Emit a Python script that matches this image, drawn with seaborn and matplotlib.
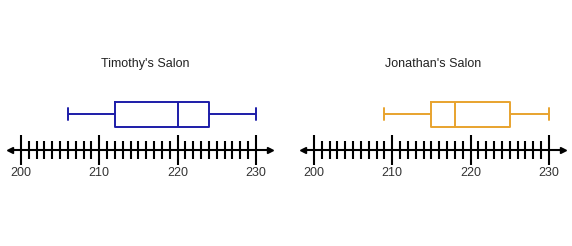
import numpy as np
import matplotlib
matplotlib.use("Agg")
import matplotlib.pyplot as plt
import seaborn as sns

# Five-number summaries: min, Q1, median, Q3, max
timothy = [206, 212, 220, 224, 230]
jonathan = [209, 215, 218, 225, 230]
titles = ["Timothy's Salon", "Jonathan's Salon"]
major_ticks = [200, 210, 220, 230]
minor_ticks = list(range(200, 231))
colors = ["#1c1ca8", "#e8a32e"]

sns.set_style("white")
plt.rcParams["font.family"] = ["Liberation Sans", "DejaVu Sans"]

W, H = 572, 246
fig = plt.figure(figsize=(W / 100, H / 100), dpi=100)

def px_axes(x0, x1, ytop, ybot):
    return fig.add_axes([x0 / W, 1 - ybot / H, (x1 - x0) / W, (ybot - ytop) / H])

axes = [px_axes(10, 270, 80, 150), px_axes(303, 563, 80, 150)]

for i, (ax, data, title, col) in enumerate(zip(axes, [timothy, jonathan], titles, colors)):
    sns.boxplot(x=data, ax=ax, whis=(0, 100), width=0.5, fill=False,
                color=col, linewidth=1.4)
    ax.set_xlim(198.6, 231.8)
    ax.set_ylim(0.72, -0.68)
    for s in ["left", "right", "top"]:
        ax.spines[s].set_visible(False)
    ax.spines["bottom"].set_linewidth(1.5)
    ax.spines["bottom"].set_color("black")
    ax.set_yticks([])
    ax.set_xticks(major_ticks)
    ax.set_xticks(minor_ticks, minor=True)
    ax.tick_params(axis="x", which="major", direction="inout", length=21,
                   width=1.5, color="black", labelsize=9, pad=2,
                   labelcolor="#333333", bottom=True)
    ax.tick_params(axis="x", which="minor", direction="inout", length=13,
                   width=1.5, color="black", bottom=True)
    ax.set_xlabel("")
    ax.set_ylabel("")
    ax.plot([0], [0], marker="<", color="black", markersize=4,
            transform=ax.transAxes, clip_on=False)
    ax.plot([1], [0], marker=">", color="black", markersize=4,
            transform=ax.transAxes, clip_on=False)
    ax.patch.set_alpha(0)
    ax.text(0.52 if i == 0 else 0.5, 1.229, title, transform=ax.transAxes,
            ha="center", va="center", fontsize=9, color="#222222")

fig.savefig("out.png", dpi=100, facecolor="white")
